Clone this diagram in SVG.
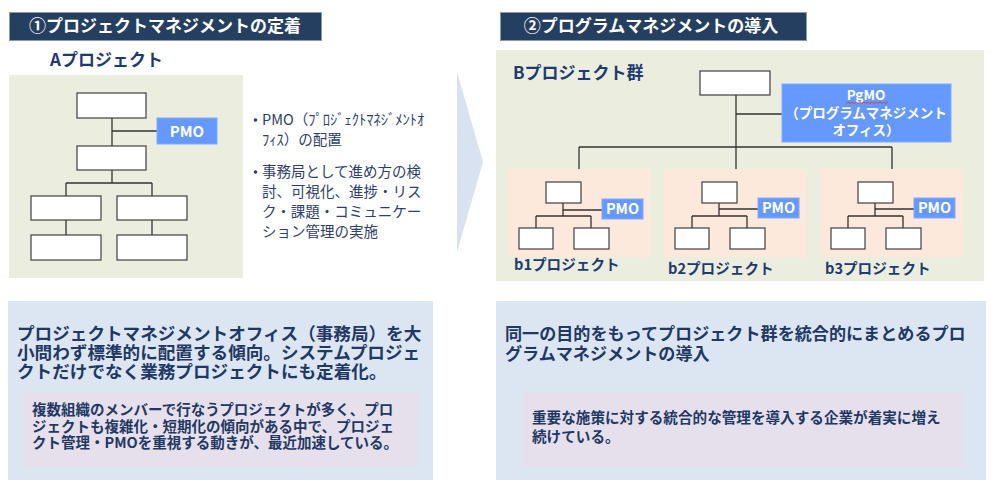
<svg xmlns="http://www.w3.org/2000/svg" width="1000" height="487" viewBox="0 0 1000 487">
<style>
text{font-family:"Noto Sans CJK JP","Noto Sans",sans-serif}
.hdr{fill:#243F60;stroke:#8C99A8;stroke-width:1}
.hdrt{fill:#fff;font-weight:700;font-size:17px}
.ttl{fill:#1F3A70;font-weight:700}
.green{fill:#EBEEDF}
.peach{fill:#FCE9DB}
.blue{fill:#DCE6F2}
.lav{fill:#E6E0EC}
.box{fill:#fff;stroke:#404040;stroke-width:1.2}
.pmo{fill:#6699FF;stroke:#7FAAFF;stroke-width:1}
.pmot{fill:#fff;font-weight:700;text-anchor:middle}
.ln{fill:none;stroke:#333;stroke-width:1.3}
.bul{fill:#2F3E6B;font-size:14.5px}
.main{fill:#1F3864;font-weight:700}
</style>

<g id="header1">
<rect class="hdr" x="9.5" y="12.5" width="312" height="28"/>
<text class="hdrt" x="165" y="32" text-anchor="middle">①プロジェクトマネジメントの定着</text>
</g>
<g id="header2">
<rect class="hdr" x="500.5" y="12.5" width="306" height="28"/>
<text class="hdrt" x="651" y="32" text-anchor="middle">②プログラムマネジメントの導入</text>
</g>

<g id="titleA"><text class="ttl" x="50" y="66" font-size="17">Aプロジェクト</text></g>

<g id="panelA">
<rect class="green" x="9" y="75" width="234" height="203"/>
</g>

<g id="connectorsA">
<path class="ln" d="M112 118V146M112 131H157M112 170V183M66 183H152M66 183V196M152 183V196M66 220V235M152 220V235"/>
</g>
<g id="A-top"><rect class="box" x="77" y="93" width="69" height="25"/></g>
<g id="A-pmo"><rect class="pmo" x="157" y="118" width="60" height="26"/><text class="pmot" x="187" y="136.5" font-size="15">PMO</text></g>
<g id="A-mid"><rect class="box" x="77" y="146" width="69" height="24"/></g>
<g id="A-l1"><rect class="box" x="31" y="196" width="70" height="24"/></g>
<g id="A-r1"><rect class="box" x="117" y="196" width="70" height="24"/></g>
<g id="A-l2"><rect class="box" x="31" y="235" width="70" height="25"/></g>
<g id="A-r2"><rect class="box" x="117" y="235" width="70" height="25"/></g>

<g id="bullets">
<circle cx="255.5" cy="120" r="1.8" fill="#2F3E6B"/>
<text class="bul"><tspan x="262" y="125">PMO（ﾌﾟﾛｼﾞｪｸﾄﾏﾈｼﾞﾒﾝﾄｵ</tspan><tspan x="262" y="145">ﾌｨｽ）の配置</tspan></text>
<circle cx="255.5" cy="172" r="1.8" fill="#2F3E6B"/>
<text class="bul"><tspan x="262" y="177">事務局として進め方の検</tspan><tspan x="262" y="197">討、可視化、進捗・リス</tspan><tspan x="262" y="217">ク・課題・コミュニケー</tspan><tspan x="262" y="237">ション管理の実施</tspan></text>
</g>

<g id="arrow"><polygon points="457,72 483,162 457,252" fill="#D9E2F0"/></g>

<g id="panelB">
<rect class="green" x="496" y="50" width="488" height="231"/>
<text class="ttl" x="513" y="79" font-size="17">Bプロジェクト群</text>
</g>

<g id="sub-b1"><rect class="peach" x="508" y="169" width="142" height="88"/></g>
<g id="sub-b2"><rect class="peach" x="664" y="169" width="143" height="88"/></g>
<g id="sub-b3"><rect class="peach" x="820" y="169" width="143" height="88"/></g>

<g id="connectorsB">
<path class="ln" d="M736 95V169M736 114H782M579 147H892M579 147V169M892 147V169"/>
<path class="ln" d="M563 203V216M563 210H602M536 216H591M536 216V228M591 216V228"/>
<path class="ln" d="M719 203V216M719 209H758M692 216H747M692 216V228M747 216V228"/>
<path class="ln" d="M875 203V216M875 209H914M848 216H903M848 216V228M903 216V228"/>
</g>

<g id="B-top"><rect class="box" x="700" y="71" width="70" height="24"/></g>
<g id="B-pgmo">
<rect class="pmo" x="782" y="84" width="169" height="58"/>
<text class="pmot" font-size="13.5"><tspan x="866" y="100">PgMO</tspan><tspan x="866" y="118">（プログラムマネジメント</tspan><tspan x="866" y="135">オフィス）</tspan></text>
<path d="M846 103.5l2 -1.5l2 1.5l2 -1.5l2 1.5l2 -1.5l2 1.5l2 -1.5l2 1.5l2 -1.5l2 1.5l2 -1.5l2 1.5l2 -1.5l2 1.5l2 -1.5l2 1.5l2 -1.5l2 1.5l2 -1.5l2 1.5l2 -1.5" fill="none" stroke="#E03030" stroke-width="0.8"/>
</g>

<g id="b1">
<rect class="box" x="546" y="182" width="35" height="21"/>
<rect class="pmo" x="602" y="199" width="41" height="20"/>
<text class="pmot" x="622.5" y="214" font-size="14.5">PMO</text>
<rect class="box" x="519" y="228" width="34" height="21"/>
<rect class="box" x="574" y="228" width="35" height="21"/>
<text class="ttl" x="514" y="270" font-size="14.6">b1プロジェクト</text>
</g>
<g id="b2">
<rect class="box" x="702" y="182" width="35" height="21"/>
<rect class="pmo" x="758" y="198" width="41" height="20"/>
<text class="pmot" x="778.5" y="213" font-size="14.5">PMO</text>
<rect class="box" x="675" y="228" width="34" height="21"/>
<rect class="box" x="730" y="228" width="35" height="21"/>
<text class="ttl" x="668" y="274" font-size="14.6">b2プロジェクト</text>
</g>
<g id="b3">
<rect class="box" x="858" y="182" width="35" height="21"/>
<rect class="pmo" x="914" y="198" width="41" height="20"/>
<text class="pmot" x="934.5" y="213" font-size="14.5">PMO</text>
<rect class="box" x="831" y="228" width="34" height="21"/>
<rect class="box" x="886" y="228" width="35" height="21"/>
<text class="ttl" x="825" y="274" font-size="14.6">b3プロジェクト</text>
</g>

<g id="summaryA">
<rect class="blue" x="8" y="301" width="425" height="179"/>
<text class="main" font-size="17.6"><tspan x="17" y="339.5">プロジェクトマネジメントオフィス（事務局）を大</tspan><tspan x="17" y="358.5">小問わず標準的に配置する傾向。システムプロジェ</tspan><tspan x="17" y="377.5">クトだけでなく業務プロジェクトにも定着化。</tspan></text>
<rect class="lav" x="23" y="392" width="395" height="75"/>
<text class="main" font-size="14.5"><tspan x="32" y="415">複数組織のメンバーで行なうプロジェクトが多く、プロ</tspan><tspan x="32" y="431.5">ジェクトも複雑化・短期化の傾向がある中で、プロジェ</tspan><tspan x="32" y="448">クト管理・PMOを重視する動きが、最近加速している。</tspan></text>
</g>

<g id="summaryB">
<rect class="blue" x="496" y="301" width="490" height="179"/>
<text class="main" font-size="17.1"><tspan x="505" y="340">同一の目的をもってプロジェクト群を統合的にまとめるプロ</tspan><tspan x="505" y="360">グラムマネジメントの導入</tspan></text>
<rect class="lav" x="522" y="392" width="441" height="75"/>
<text class="main" font-size="14.6"><tspan x="532" y="423">重要な施策に対する統合的な管理を導入する企業が着実に増え</tspan><tspan x="532" y="442">続けている。</tspan></text>
</g>
</svg>
